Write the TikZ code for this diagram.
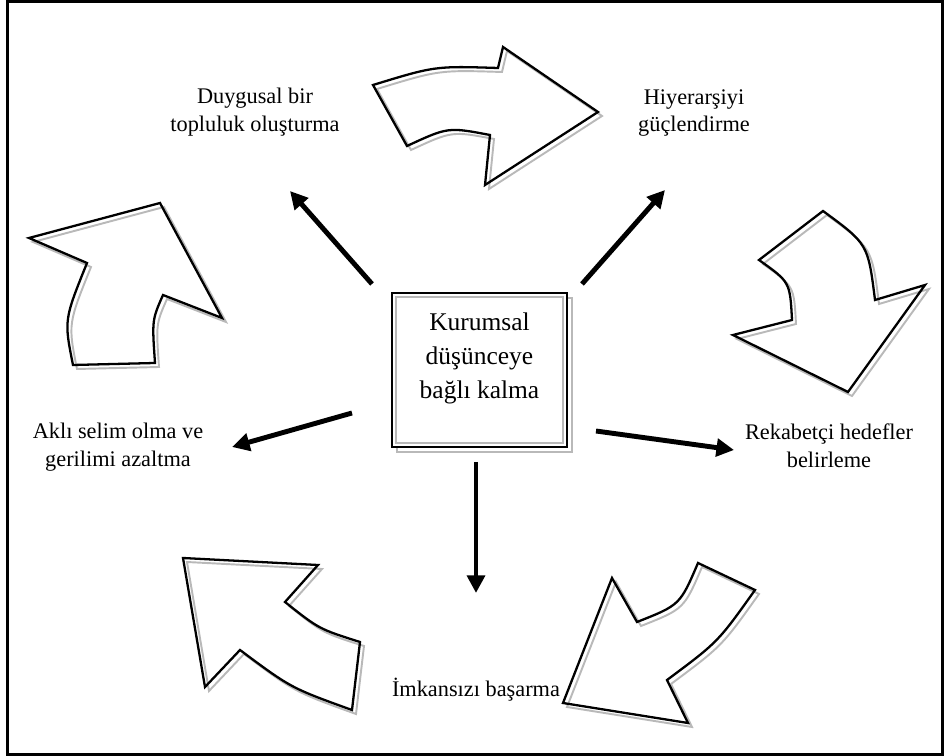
\documentclass[tikz,border=0pt]{standalone}
\usepackage{fontspec}
\setmainfont{Liberation Serif}
\usetikzlibrary{arrows.meta,positioning}

\begin{document}
\begin{tikzpicture}[x=0.02cm,y=-0.02cm,
  lbl/.style={align=center,inner sep=0pt,font=\fontsize{12.7}{15.9}\selectfont},
  hub/.style={draw,fill=white,line width=1.6pt,minimum width=3.5cm,minimum height=3.08cm},
  spoke/.style={line width=2.8pt,-{Triangle[length=10pt,width=10pt]}},
  blk/.style={draw,line width=1.3pt,line join=miter,
    preaction={draw=gray!55,line width=1.1pt,transform canvas={shift={(4,4)}}}},
  shade/.style={draw=gray!55,line width=1.1pt}]

  \useasboundingbox (0,0) rectangle (944,756);
  \draw[line width=1.7pt] (7.5,2) rectangle (942,754.5);

  % centre box
  \draw[shade] (397,298) rectangle (572,452);
  \node[hub] (hub) at (479.5,370) {};
  \draw[shade] ([shift={(5,5)}]hub.north west) rectangle ([shift={(-5,-5)}]hub.south east);
  \node[align=center,font=\fontsize{14.5}{19.4}\selectfont] (hubtxt) at (479.5,358)
    {Kurumsal\\düşünceye\\bağlı kalma};

  \node[lbl] (duyg) at (255,112) {Duygusal bir\\topluluk oluşturma};
  \node[lbl] (hiyer) at (694,113) {Hiyerarşiyi\\güçlendirme};
  \node[lbl] (akli) at (118,447) {Aklı selim olma ve\\gerilimi azaltma};
  \node[lbl] (rekab) at (829,446) {Rekabetçi hedefler\\belirleme};
  \node[lbl] (imk) at (476,690) {İmkansızı başarma};

  \coordinate (ul0) at (372,284);
  \coordinate (ur0) at (582,284);
  \coordinate (lt0) at (352,413);
  \coordinate (rt0) at (596,431);
  \coordinate (dn0) at (476,462);
  \coordinate (ul) at (290,191);
  \coordinate (ur) at (665,190);
  \coordinate (lt) at (232,447);
  \coordinate (rt) at (734,450);
  \coordinate (dn) at (476,593);

  \draw[spoke] (ul0) -- (ul);
  \draw[spoke] (ur0) -- (ur);
  \draw[spoke] (lt0) -- (lt);
  \draw[spoke] (rt0) -- (rt);
  \draw[spoke] (dn0) -- (dn);

  % block arrows
  \draw[blk] (373,85) .. controls (435,66) .. (498,68) -- (503,47) -- (598,112)
    -- (485,185) -- (490,135) .. controls (448,127) .. (407,146) -- cycle;
  \draw[blk] (29,238) -- (160,203) -- (222,318) -- (163,295)
    .. controls (152,320) .. (155,363) -- (73,365) .. controls (64,320) .. (87,263) -- cycle;
  \draw[blk] (792,320) .. controls (790,282) .. (759,260) -- (823,211)
    .. controls (868,244) .. (875,300) -- (925,285) -- (848,392) -- (733,335) -- cycle;
  \draw[blk] (183,558) -- (318,565) -- (285,602) .. controls (319,629) .. (360,642)
    -- (352,710) .. controls (291,688) .. (240,650) -- (205,687) -- cycle;
  \draw[blk] (698,563) -- (755,590) .. controls (718,642) .. (667,680) -- (688,723)
    -- (563,703) -- (612,578) -- (637,622) .. controls (680,605) .. cycle;
\end{tikzpicture}
\end{document}
